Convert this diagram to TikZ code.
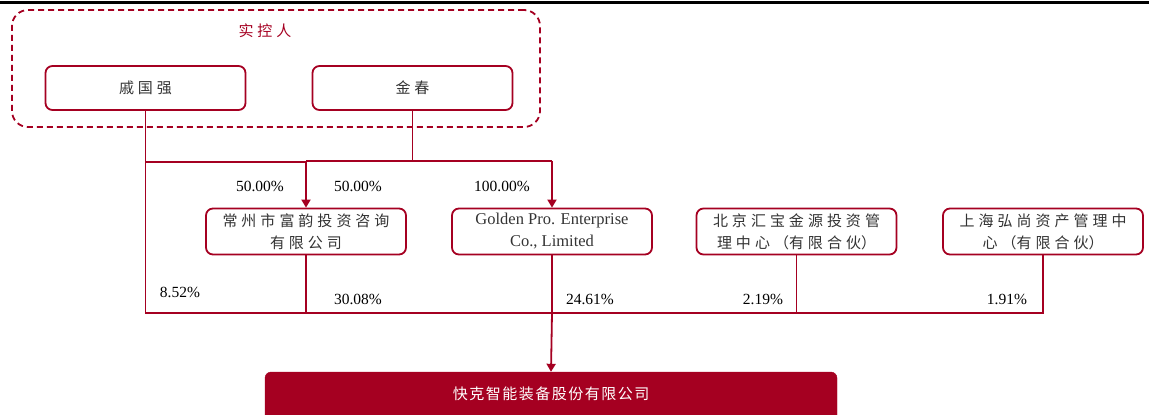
\documentclass[tikz,border=0pt]{standalone}
\usepackage{fontspec}
\setmainfont{Liberation Serif}
\newfontfamily\cjk{Noto Sans CJK SC}
\usetikzlibrary{arrows.meta}
\definecolor{crim}{HTML}{A50021}
\definecolor{txt}{HTML}{333333}
\newcommand{\cg}{\hspace{4pt}}
\newcommand{\cgs}{\hspace{1.5pt}}
\tikzset{
  ent/.style={draw=crim, line width=1.8pt, rounded corners=7pt, minimum width=200pt, minimum height=46pt, align=center, text=txt, font=\cjk\fontsize{15}{22}\selectfont, inner sep=0pt},
  conn/.style={draw=crim, line width=1.8pt},
  arr/.style={conn, -{Triangle[length=8pt,width=9pt]}},
  pct/.style={font=\fontsize{15.5}{17}\selectfont, text=black, inner sep=0pt},
}
\begin{document}
\begin{tikzpicture}[x=1pt,y=-1pt]
\useasboundingbox (0,0) rectangle (1149,415);
\begin{scope}
\clip (0,0) rectangle (1149,415);
\draw[line width=3pt, black] (0,2.5) -- (1149,2.5);
\node[draw=crim, dash pattern=on 6pt off 4pt, line width=1.8pt, rounded corners=16pt, minimum width=528pt, minimum height=117pt, inner sep=0pt] (ctrl) at (276,68.5) {};
\node[font=\cjk\fontsize{15}{18}\selectfont, text=crim] (ctrllbl) at (265,31) {实\cg 控\cg 人};
\node[ent, minimum height=44pt] (qgq) at (145.5,88) {戚\cg 国\cg 强};
\node[ent, minimum height=44pt] (jc) at (412.5,88) {金\cg 春};
\node[ent] (cz) at (306,231.5) {常\cg 州\cg 市\cg 富\cg 韵\cg 投\cg 资\cg 咨\cg 询\\有\cg 限\cg 公\cg 司};
\node[ent, font=\fontsize{16.5}{22}\selectfont] (gp) at (552,231.5) {Golden Pro. Enterprise\\Co., Limited};
\node[ent] (bj) at (796.5,231.5) {北\cg 京\cg 汇\cg 宝\cg 金\cg 源\cg 投\cg 资\cg 管\\理\cg 中\cg 心\cg（有\cg 限\cg 合\cg 伙）};
\node[ent] (sh) at (1043,231.5) {上\cg 海\cg 弘\cg 尚\cg 资\cg 产\cg 管\cg 理\cg 中\\心\cg（有\cg 限\cg 合\cg 伙）};
\node[fill=crim, draw=crim, rounded corners=6pt, minimum width=572pt, minimum height=50pt, inner sep=0pt] (kk) at (551,397) {};
\node[text=white, font=\cjk\fontsize{15}{18}\selectfont] (kklbl) at (551,394) {快\cgs 克\cgs 智\cgs 能\cgs 装\cgs 备\cgs 股\cgs 份\cgs 有\cgs 限\cgs 公\cgs 司};
\coordinate (j1) at (qgq.south |- 0,162);
\coordinate (j2) at (jc.south |- 0,161);
\coordinate (b1) at (qgq.south |- 0,313);
\coordinate (b5) at (sh.south |- 0,313);
\coordinate (bm) at (gp.south |- 0,313);
\coordinate (czt) at (cz.north |- 0,161);
\coordinate (gpt) at (gp.north |- 0,161);
\draw[conn] (qgq.south) -- (b1) -- (b5) -- (sh.south);
\draw[conn] (j1) -- (czt |- j1);
\draw[conn] (jc.south) -- (j2);
\draw[conn] (czt) -- (gpt);
\draw[arr] (czt) -- (cz.north);
\draw[arr] (gpt) -- (gp.north);
\draw[conn] (cz.south) -- (cz.south |- b1);
\draw[conn] (gp.south) -- (bm);
\draw[conn] (bj.south) -- (bj.south |- b1);
\draw[arr] (bm) -- (kk.north);
\end{scope}
\node[pct] (p1) at (260,186) {50.00\%};
\node[pct] (p2) at (358,186) {50.00\%};
\node[pct] (p3) at (502,186) {100.00\%};
\node[pct] (p4) at (180,292) {8.52\%};
\node[pct] (p5) at (358,299) {30.08\%};
\node[pct] (p6) at (590,299) {24.61\%};
\node[pct] (p7) at (763,299) {2.19\%};
\node[pct] (p8) at (1007,299) {1.91\%};
\end{tikzpicture}
\end{document}
